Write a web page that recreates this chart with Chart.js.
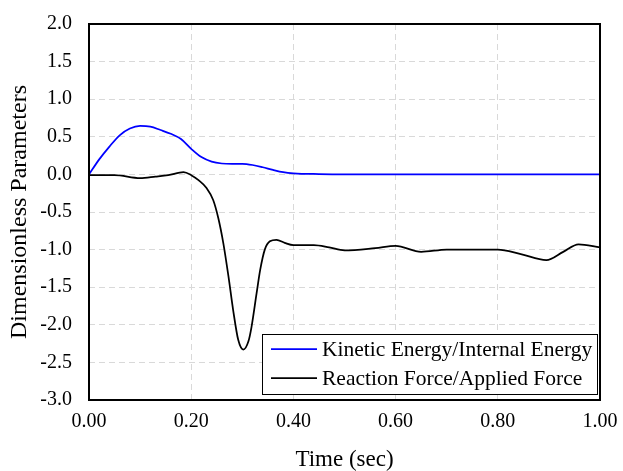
<!DOCTYPE html>
<html><head><meta charset="utf-8">
<script src="https://cdn.jsdelivr.net/npm/chart.js@4/dist/chart.umd.min.js"></script>
<style>html,body{margin:0;padding:0;background:#fff}</style>
</head><body>
<canvas id="c" width="623" height="471"></canvas>
<script>
const seriesLabels = ['Kinetic Energy/Internal Energy', 'Reaction Force/Applied Force'];
const keTime = [0, 0.02, 0.04, 0.06, 0.08, 0.10, 0.12, 0.14, 0.16, 0.18, 0.20, 0.22, 0.24, 0.26, 0.28, 0.30, 0.32, 0.34, 0.36, 0.38, 0.40, 0.45, 0.50, 0.60, 0.70, 0.80, 0.90, 1.00];
const keValues = [0, 0.20, 0.37, 0.52, 0.61, 0.645, 0.635, 0.59, 0.54, 0.47, 0.34, 0.23, 0.17, 0.145, 0.14, 0.14, 0.125, 0.095, 0.06, 0.03, 0.015, 0.004, 0, 0, 0, 0, 0, 0];
const rfTime = [0, 0.05, 0.10, 0.13, 0.155, 0.185, 0.20, 0.215, 0.23, 0.243, 0.253, 0.263, 0.273, 0.282, 0.292, 0.302, 0.312, 0.318, 0.328, 0.335, 0.344, 0.354, 0.367, 0.383, 0.40, 0.44, 0.47, 0.50, 0.56, 0.60, 0.65, 0.70, 0.75, 0.80, 0.845, 0.895, 0.928, 0.958, 1.00];
const rfValues = [-0.01, -0.01, -0.05, -0.03, -0.01, 0.03, -0.01, -0.08, -0.18, -0.34, -0.58, -0.92, -1.36, -1.80, -2.20, -2.33, -2.22, -2.03, -1.58, -1.27, -1.00, -0.89, -0.87, -0.91, -0.94, -0.94, -0.97, -1.01, -0.98, -0.95, -1.03, -1.00, -1.00, -1.00, -1.06, -1.14, -1.03, -0.93, -0.97];
const xTickValues = [0, 0.2, 0.4, 0.6, 0.8, 1.0];
const yTickValues = [-3, -2.5, -2, -1.5, -1, -0.5, 0, 0.5, 1, 1.5, 2];
const xTitle = 'Time (sec)';
const yTitle = 'Dimensionless Parameters';

const FONT = '"Liberation Serif", "Times New Roman", serif';

const frame = {
  id: 'frame',
  afterDatasetsDraw(chart) {
    const {ctx, chartArea: a} = chart;
    ctx.save();
    ctx.strokeStyle = '#000';
    ctx.lineWidth = 2;
    ctx.strokeRect(a.left, a.top, a.right - a.left, a.bottom - a.top);
    ctx.restore();
  }
};

const boxLegend = {
  id: 'boxLegend',
  afterDraw(chart) {
    const {ctx, chartArea: a} = chart;
    const w = 335, h = 60;
    const x = a.right - 3 - w, y = a.bottom - 6 - h;
    ctx.save();
    ctx.fillStyle = '#fff';
    ctx.fillRect(x, y, w, h);
    ctx.strokeStyle = '#000';
    ctx.lineWidth = 1;
    ctx.strokeRect(x + 0.5, y + 0.5, w, h);
    ctx.font = '21.5px ' + FONT;
    ctx.textBaseline = 'middle';
    chart.data.datasets.forEach((ds, i) => {
      const ly = y + 15 + i * 29;
      ctx.strokeStyle = ds.borderColor;
      ctx.lineWidth = 1.75;
      ctx.beginPath();
      ctx.moveTo(x + 9, ly);
      ctx.lineTo(x + 55, ly);
      ctx.stroke();
      ctx.fillStyle = '#000';
      ctx.fillText(ds.label, x + 60, ly + 1);
    });
    ctx.restore();
  }
};

const grid = {color: '#d9d9d9', lineWidth: 1, drawTicks: false};

new Chart(document.getElementById('c'), {
  type: 'line',
  data: {
    datasets: [
      {label: seriesLabels[0], data: keTime.map((t, i) => ({x: t, y: keValues[i]})), borderColor: '#0000ff', borderWidth: 1.75, pointRadius: 0, cubicInterpolationMode: 'monotone', fill: false},
      {label: seriesLabels[1], data: rfTime.map((t, i) => ({x: t, y: rfValues[i]})), borderColor: '#000000', borderWidth: 1.75, pointRadius: 0, cubicInterpolationMode: 'monotone', fill: false}
    ]
  },
  options: {
    responsive: false,
    animation: false,
    layout: {padding: {left: 0, right: 23, top: 24, bottom: 0}},
    plugins: {legend: {display: false}, tooltip: {enabled: false}},
    scales: {
      x: {
        type: 'linear', min: 0, max: 1,
        grid: grid,
        border: {display: false, dash: [6, 4]},
        afterBuildTicks: s => { s.ticks = xTickValues.map(v => ({value: v})); },
        afterFit: s => { s.height = 71; s.paddingLeft = 0; s.paddingRight = 0; },
        ticks: {color: '#000', font: {family: FONT, size: 20}, padding: 10, maxRotation: 0, callback: v => Number(v).toFixed(2)},
        title: {display: true, text: xTitle, color: '#000', font: {family: FONT, size: 23, lineHeight: 1}, padding: {top: 0, bottom: 0}}
      },
      y: {
        type: 'linear', min: -3, max: 2,
        grid: grid,
        border: {display: false, dash: [6, 4]},
        afterBuildTicks: s => { s.ticks = yTickValues.map(v => ({value: v})); },
        afterFit: s => { s.width = 89; s.paddingTop = 0; s.paddingBottom = 0; },
        ticks: {color: '#000', font: {family: FONT, size: 20}, padding: 17, callback: v => Number(v).toFixed(1)},
        title: {display: true, text: yTitle, color: '#000', font: {family: FONT, size: 24, lineHeight: 1}, padding: {top: 8, bottom: 0}}
      }
    }
  },
  plugins: [frame, boxLegend]
});
</script>
</body></html>
